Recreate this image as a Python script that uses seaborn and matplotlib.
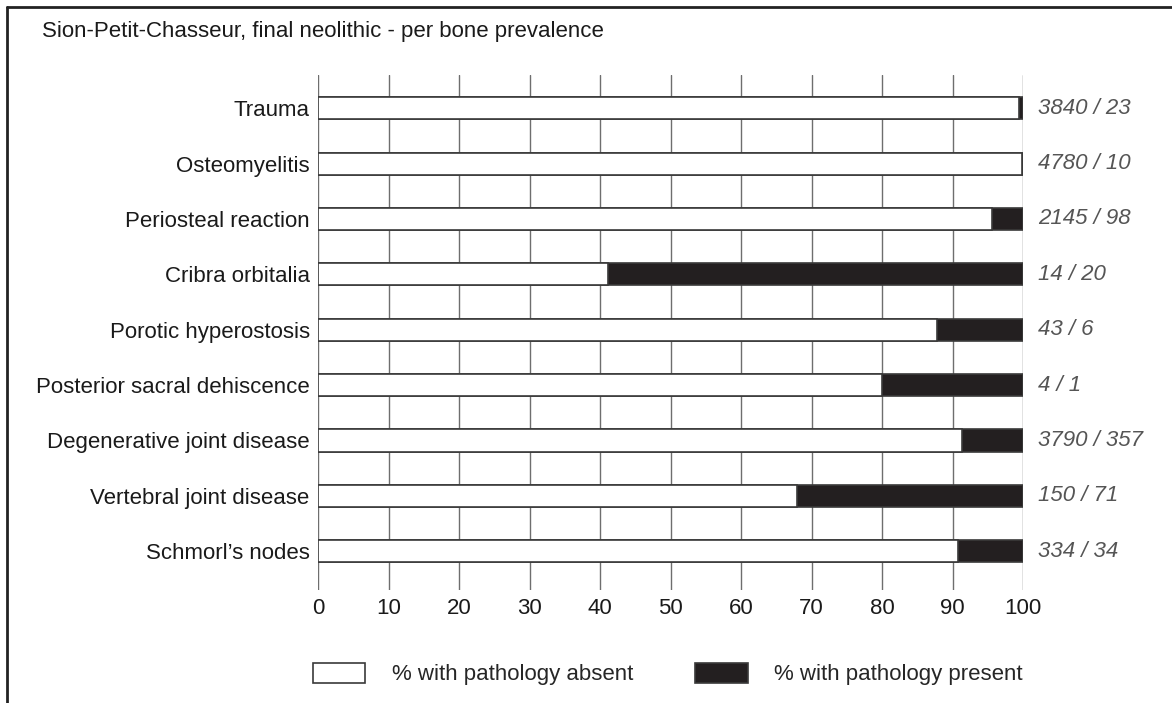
import matplotlib
matplotlib.use("Agg")
import matplotlib.pyplot as plt
from matplotlib.patches import Patch
from matplotlib.lines import Line2D
import seaborn as sns
import pandas as pd

# ---- data ----
categories = ["Trauma", "Osteomyelitis", "Periosteal reaction", "Cribra orbitalia",
              "Porotic hyperostosis", "Posterior sacral dehiscence",
              "Degenerative joint disease", "Vertebral joint disease", "Schmorl\u2019s nodes"]
pct_absent = [99.4, 99.8, 95.6, 41.2, 87.8, 80.0, 91.4, 67.9, 90.8]
pct_total = [100, 100, 100, 100, 100, 100, 100, 100, 100]
count_labels = ["3840 / 23", "4780 / 10", "2145 / 98", "14 / 20", "43 / 6", "4 / 1",
                "3790 / 357", "150 / 71", "334 / 34"]
xticks = [0, 10, 20, 30, 40, 50, 60, 70, 80, 90, 100]
title = "Sion-Petit-Chasseur, final neolithic - per bone prevalence"
legend_labels = ["% with pathology absent", "% with pathology present"]

df = pd.DataFrame({"category": categories, "absent": pct_absent, "total": pct_total})

sns.set_theme(style="white")
plt.rcParams["font.family"] = ["Liberation Sans", "DejaVu Sans"]

BLACK = "#231f20"
EDGE = "#3a3a3a"
FS = 16

fig = plt.figure(figsize=(11.72, 7.03), dpi=100)
ax = fig.add_axes([318 / 1172, 1 - 590 / 703, (1023 - 318) / 1172, (590 - 75) / 703])

sns.barplot(data=df, y="category", x="total", orient="h", color=BLACK,
            saturation=1, width=0.4, edgecolor=EDGE, linewidth=1.2, ax=ax, zorder=3)
sns.barplot(data=df, y="category", x="absent", orient="h", color="white",
            saturation=1, width=0.4, edgecolor=EDGE, linewidth=1.2, ax=ax, zorder=4)

ax.set_xlim(0, 100)
ax.set_ylim(8.7, -0.6)
ax.set_xticks(xticks)
ax.set_xticklabels([str(t) for t in xticks], fontsize=FS, color="#1a1a1a")
ax.tick_params(axis="y", labelsize=FS, length=0, pad=6, labelcolor="#1a1a1a")
ax.tick_params(axis="x", length=0, pad=6)
ax.set_xlabel("")
ax.set_ylabel("")
for s in ax.spines.values():
    s.set_visible(False)
ax.xaxis.grid(True, color="#6e6e6e", linewidth=1.0, zorder=0)
ax.yaxis.grid(False)
ax.set_axisbelow(True)

for i, lab in enumerate(count_labels):
    ax.text(102.1, i, lab, ha="left", va="center", fontsize=FS, style="italic",
            color="#555555", clip_on=False)

fig.text(42 / 1172, 1 - 37 / 703, title, ha="left", va="baseline", fontsize=FS,
         color="#1a1a1a")

handles = [Patch(facecolor="white", edgecolor=EDGE, linewidth=1.2),
           Patch(facecolor=BLACK, edgecolor=EDGE, linewidth=1.2)]
fig.legend(handles, legend_labels, loc="center", bbox_to_anchor=(668 / 1172, 1 - 674 / 703),
           ncol=2, frameon=False, fontsize=FS, handlelength=2.35, handleheight=1.05,
           handletextpad=1.2, columnspacing=2.8)

# outer frame (top and left edges)
fig.add_artist(Line2D([7 / 1172, 7 / 1172], [0, 1 - 7 / 703], color="#222222", linewidth=2,
                      transform=fig.transFigure))
fig.add_artist(Line2D([7 / 1172, 1], [1 - 7 / 703, 1 - 7 / 703], color="#222222", linewidth=2,
                      transform=fig.transFigure))

fig.savefig("out.png", dpi=100, facecolor="white")
